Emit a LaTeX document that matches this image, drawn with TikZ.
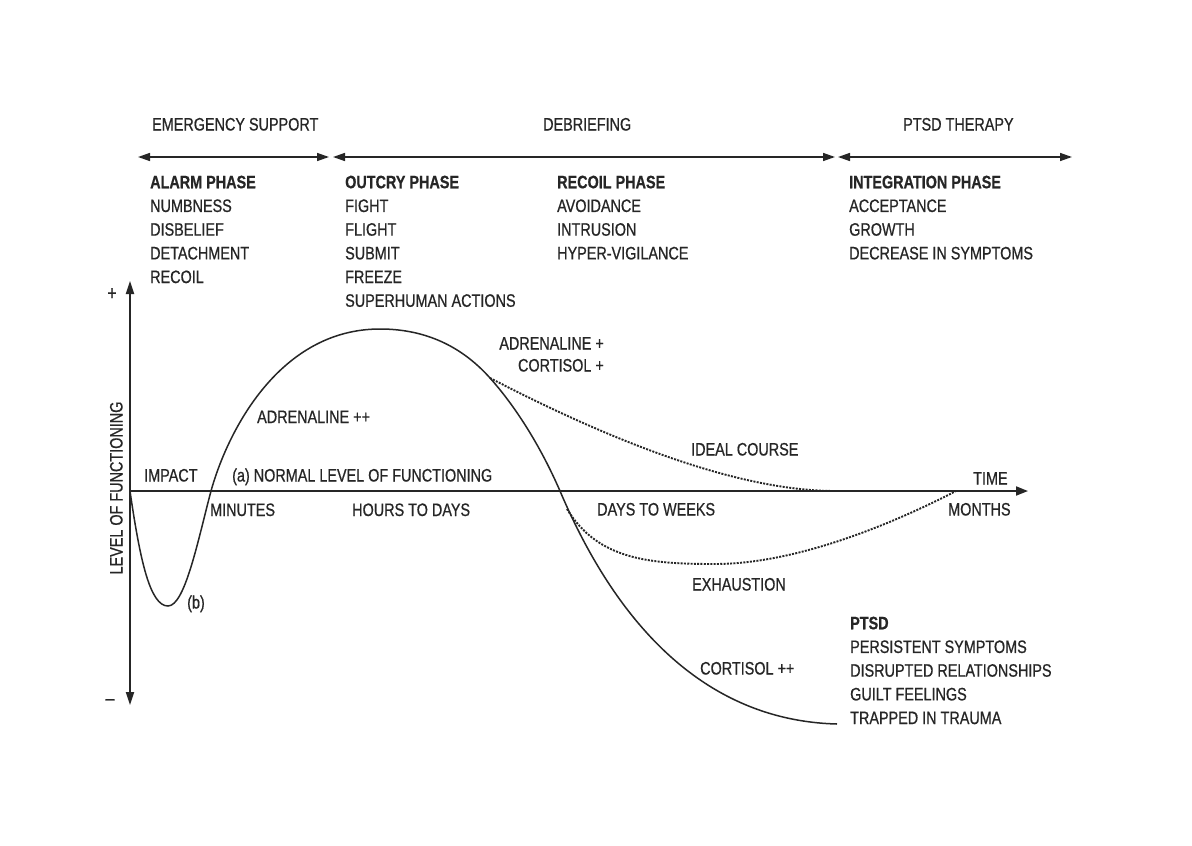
\documentclass[tikz,border=0pt]{standalone}
\usepackage{fontspec}
\setmainfont[FakeStretch=0.8,FakeBold=0.7,BoldFeatures={FakeBold=0.6}]{Liberation Sans}
\usetikzlibrary{arrows.meta}
\definecolor{ink}{HTML}{262626}
\definecolor{lineink}{HTML}{262626}
\begin{document}
\begin{tikzpicture}[x=1pt,y=-1pt,
  txt/.style={inner sep=0pt, text=ink, font=\fontsize{18}{23.7}\selectfont},
  lbl/.style={txt, anchor=base west},
  block/.style={txt, anchor=north west, align=left},
  phasearrow/.style={draw=lineink, line width=1.5pt,
     {Triangle[length=12pt,width=8pt]}-{Triangle[length=12pt,width=8pt]}},
  axisline/.style={draw=lineink, line width=1.8pt},
  curveline/.style={draw=lineink, line width=1.5pt},
  dotline/.style={draw=lineink, line width=1.9pt, dash pattern=on 2pt off 1.3pt}]
\useasboundingbox[fill=white] (0,0) rectangle (1192,846);

% top span arrows
\coordinate (a1l) at (138,157);
\coordinate (a1r) at (329,157);
\coordinate (a2l) at (333,157);
\coordinate (a2r) at (835,157);
\coordinate (a3l) at (838,157);
\coordinate (a3r) at (1072,157);
\draw[phasearrow] (a1l) -- (a1r);
\draw[phasearrow] (a2l) -- (a2r);
\draw[phasearrow] (a3l) -- (a3r);

\node[lbl] (es) at (152,130.5) {EMERGENCY SUPPORT};
\node[lbl] (deb) at (543,130.5) {DEBRIEFING};
\node[lbl] (pth) at (903,130.5) {PTSD THERAPY};

% phase blocks
\node[block] (alarm) at (150,175.5) {\textbf{ALARM PHASE}\\NUMBNESS\\DISBELIEF\\DETACHMENT\\RECOIL};
\node[block] (outcry) at (345,175.5) {\textbf{OUTCRY PHASE}\\FIGHT\\FLIGHT\\SUBMIT\\FREEZE\\SUPERHUMAN ACTIONS};
\node[block] (recoil) at (557,175.5) {\textbf{RECOIL PHASE}\\AVOIDANCE\\INTRUSION\\HYPER-VIGILANCE};
\node[block] (integ) at (849,175.5) {\textbf{INTEGRATION PHASE}\\ACCEPTANCE\\GROWTH\\DECREASE IN SYMPTOMS};
\node[block] (ptsd) at (850,616.5) {\textbf{PTSD}\\PERSISTENT SYMPTOMS\\DISRUPTED RELATIONSHIPS\\GUILT FEELINGS\\TRAPPED IN TRAUMA};

% axes
\coordinate (ytop) at (130,281);
\coordinate (ybot) at (130,705);
\coordinate (origin) at (130,491);
\coordinate (xend) at (1028,491);
\draw[axisline, {Triangle[length=13pt,width=8pt]}-{Triangle[length=13pt,width=8pt]}] (ybot) -- (ytop);
\draw[axisline, -{Triangle[length=12pt,width=9pt]}] (origin) -- (xend);
\node[txt, font=\fontsize{20}{24}\selectfont] (plus) at (112,294) {+};
\node[txt, font=\fontsize{20}{24}\selectfont] (minus) at (110,702) {--};
\node[txt, rotate=90, anchor=base] (ylab) at (122.5,488) {LEVEL OF FUNCTIONING};

% main curve
\coordinate (bmin) at (168,606);
\coordinate (c1) at (211,491);
\coordinate (peak) at (380,329);
\coordinate (split) at (490,378);
\coordinate (c2) at (560,491);
\coordinate (cend) at (837,724);
\draw[curveline] (origin) .. controls (140,560) and (150,606) .. (bmin)
  .. controls (185,606) and (198,540) .. (c1)
  .. controls (228,430) and (280,329) .. (peak)
  .. controls (430,329) and (465,350) .. (split)
  .. controls (515,406) and (540,445) .. (c2)
  .. controls (600,585) and (680,720) .. (cend);

% dotted branches
\coordinate (idealend) at (833,491);
\coordinate (exstart) at (567,509);
\coordinate (exmin) at (715,564);
\coordinate (exend) at (956,491);
\draw[dotline] (split) .. controls (600,435) and (730,490) .. (idealend);
\draw[dotline] (exstart) .. controls (598,560) and (650,564) .. (exmin)
  .. controls (800,564) and (900,520) .. (exend);

% labels on graph
\node[lbl] (impact) at (144,481.5) {IMPACT};
\node[lbl] (normal) at (232,481.5) {(a) NORMAL LEVEL OF FUNCTIONING};
\node[lbl] (minutes) at (210,516) {MINUTES};
\node[lbl] (hours) at (352,516) {HOURS TO DAYS};
\node[lbl] (days) at (597,515.5) {DAYS TO WEEKS};
\node[lbl] (months) at (948,515.5) {MONTHS};
\node[lbl] (time) at (973,484.5) {TIME};
\node[lbl] (adpp) at (257,423) {ADRENALINE ++};
\node[txt, anchor=base east] (adp) at (604,349.5) {ADRENALINE +};
\node[txt, anchor=base east] (cop) at (604,371.5) {CORTISOL +};
\node[lbl] (ideal) at (691,455.5) {IDEAL COURSE};
\node[lbl] (exh) at (692,590.5) {EXHAUSTION};
\node[lbl] (b) at (187,608.5) {(b)};
\node[lbl] (copp) at (700,674.5) {CORTISOL ++};
\end{tikzpicture}
\end{document}
